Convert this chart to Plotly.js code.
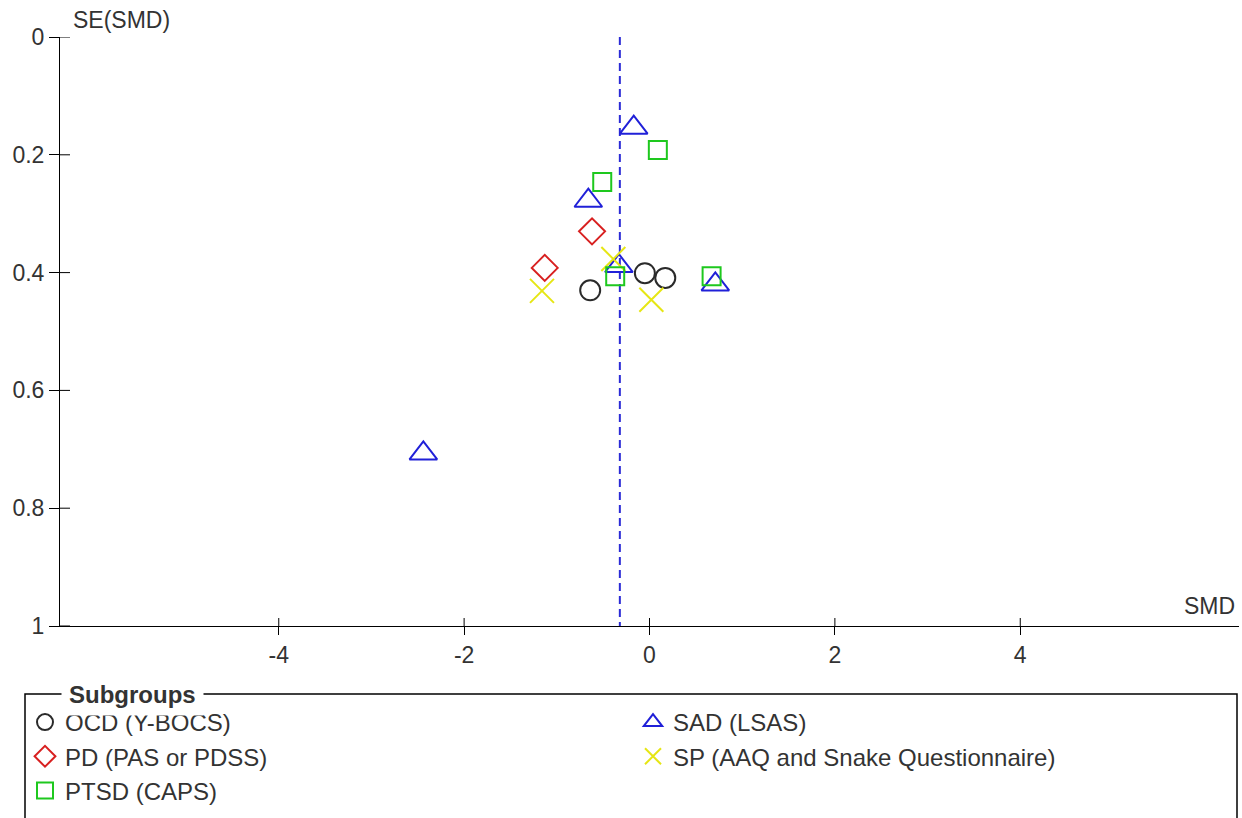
<!DOCTYPE html>
<html>
<head>
<meta charset="utf-8">
<script src="https://cdn.plot.ly/plotly-3.0.1.min.js"></script>
<style>
  html, body { margin: 0; padding: 0; background: #ffffff; }
  #chart { width: 1242px; height: 818px; }
</style>
</head>
<body>
<div id="chart"></div>
<script>
// Funnel plot: standardised mean difference vs. its standard error, by subgroup
const subgroupNames = [
  "OCD (Y-BOCS)",
  "SAD (LSAS)",
  "PD (PAS or PDSS)",
  "SP (AAQ and Snake Questionnaire)",
  "PTSD (CAPS)"
];

// SMD and SE(SMD) per study
const ocdSMD  = [-0.64, -0.05, 0.17];
const ocdSE   = [0.430, 0.401, 0.409];

const sadSMD  = [-0.17, -0.66, -0.33, 0.71, -2.44];
const sadSE   = [0.154, 0.278, 0.389, 0.420, 0.707];

const pdSMD   = [-0.62, -1.13];
const pdSE    = [0.330, 0.392];

const spSMD   = [-1.16, -0.39, 0.02];
const spSE    = [0.431, 0.377, 0.446];

const ptsdSMD = [0.09, -0.51, -0.37, 0.67];
const ptsdSE  = [0.192, 0.246, 0.406, 0.406];

// pooled effect (dashed reference line)
const pooledSMD = -0.32;

// axis ticks
const xTickVals = [-4, -2, 0, 2, 4];
const xTickText = ["-4", "-2", "0", "2", "4"];
const yTickVals = [0, 0.2, 0.4, 0.6, 0.8, 1];
const yTickText = ["0", "0.2", "0.4", "0.6", "0.8", "1"];
const xRange = [-6.36, 6.36];
const yRange = [1, 0];

const FONT = "Liberation Sans, Arial, Helvetica, sans-serif";
const TXT = "#333333";

function group(name, xs, ys, symbol, color, size) {
  return {
    type: "scatter",
    mode: "markers",
    name: name,
    x: xs,
    y: ys,
    hoverinfo: "x+y+name",
    marker: {
      symbol: symbol,
      size: size,
      color: color,
      line: { color: color, width: 2 }
    }
  };
}

const traces = [
  {
    type: "scatter",
    mode: "lines",
    x: [pooledSMD, pooledSMD],
    y: [yRange[1], yRange[0]],
    showlegend: false,
    hoverinfo: "skip",
    line: { color: "#2b2bd6", width: 2, dash: "8px,5px" }
  },
  group(subgroupNames[0], ocdSMD, ocdSE, "circle-open", "#2a2a2a", 20),
  group(subgroupNames[1], sadSMD, sadSE, "triangle-up-open", "#2020d8", 24),
  group(subgroupNames[2], pdSMD, pdSE, "diamond-open", "#d82020", 20),
  group(subgroupNames[3], spSMD, spSE, "x-thin-open", "#e6e614", 24),
  group(subgroupNames[4], ptsdSMD, ptsdSE, "square-open", "#1ec81e", 18)
];

const W = 1242, H = 818;
const M = { l: 60, r: 3, t: 37, b: 192 };
const pw = W - M.l - M.r, ph = H - M.t - M.b;
// helpers: pixel position -> paper coordinates (for legend frame / labels)
const px = v => (v - M.l) / pw;
const py = v => (H - M.b - v) / ph;

// tick marks cross the axis lines: the axes draw the outer half,
// short line shapes at the same tick values draw the inner half
const X_TICK_HALF = 8, Y_TICK_HALF = 10;
const tickShapes = [];
xTickVals.forEach(v => tickShapes.push({
  type: "line", xref: "x", yref: "paper",
  x0: v, x1: v, y0: 0, y1: X_TICK_HALF / ph,
  line: { color: "#000000", width: 1 }
}));
yTickVals.forEach(v => tickShapes.push({
  type: "line", xref: "paper", yref: "y",
  x0: 0, x1: Y_TICK_HALF / pw, y0: v, y1: v,
  line: { color: "#000000", width: 1 }
}));

const layout = {
  width: W,
  height: H,
  margin: { l: M.l, r: M.r, t: M.t, b: M.b, autoexpand: false },
  paper_bgcolor: "#ffffff",
  plot_bgcolor: "#ffffff",
  font: { family: FONT, size: 23, color: TXT },
  showlegend: true,
  xaxis: {
    range: xRange, fixedrange: true, showgrid: false, zeroline: false,
    tickmode: "array", tickvals: xTickVals, ticktext: xTickText,
    showline: true, linecolor: "#000000", linewidth: 1,
    ticks: "outside", ticklen: X_TICK_HALF, tickwidth: 1, tickcolor: "#000000",
    tickfont: { family: FONT, size: 23, color: TXT }
  },
  yaxis: {
    range: yRange, fixedrange: true, showgrid: false, zeroline: false,
    tickmode: "array", tickvals: yTickVals, ticktext: yTickText,
    showline: true, linecolor: "#000000", linewidth: 1,
    ticks: "outside", ticklen: Y_TICK_HALF, tickwidth: 1, tickcolor: "#000000",
    tickfont: { family: FONT, size: 23, color: TXT }
  },
  legend: {
    orientation: "h",
    x: px(25),
    y: py(700),
    xanchor: "left",
    yanchor: "top",
    entrywidth: 563,
    entrywidthmode: "pixels",
    itemsizing: "trace",
    bgcolor: "rgba(0,0,0,0)",
    borderwidth: 0,
    font: { family: FONT, size: 24, color: TXT },
    traceorder: "normal"
  },
  shapes: tickShapes.concat([
    {
      type: "rect", xref: "paper", yref: "paper",
      x0: px(25), x1: px(1237), y0: py(694), y1: py(900),
      line: { color: "#000000", width: 1.5 },
      fillcolor: "rgba(0,0,0,0)"
    }
  ]),
  annotations: [
    {
      text: "SE(SMD)", xref: "paper", yref: "paper",
      x: px(71), y: py(20), xanchor: "left", yanchor: "middle",
      showarrow: false, font: { family: FONT, size: 23, color: TXT }
    },
    {
      text: "SMD", xref: "paper", yref: "paper",
      x: px(1237), y: py(606), xanchor: "right", yanchor: "middle",
      showarrow: false, font: { family: FONT, size: 23, color: TXT }
    },
    {
      text: "<b>Subgroups</b>", xref: "paper", yref: "paper",
      x: px(61), y: py(694), xanchor: "left", yanchor: "middle",
      showarrow: false, bgcolor: "#ffffff", borderpad: 7,
      font: { family: FONT, size: 24, color: TXT }
    }
  ]
};

Plotly.newPlot("chart", traces, layout, { staticPlot: true, displayModeBar: false });
</script>
</body>
</html>
